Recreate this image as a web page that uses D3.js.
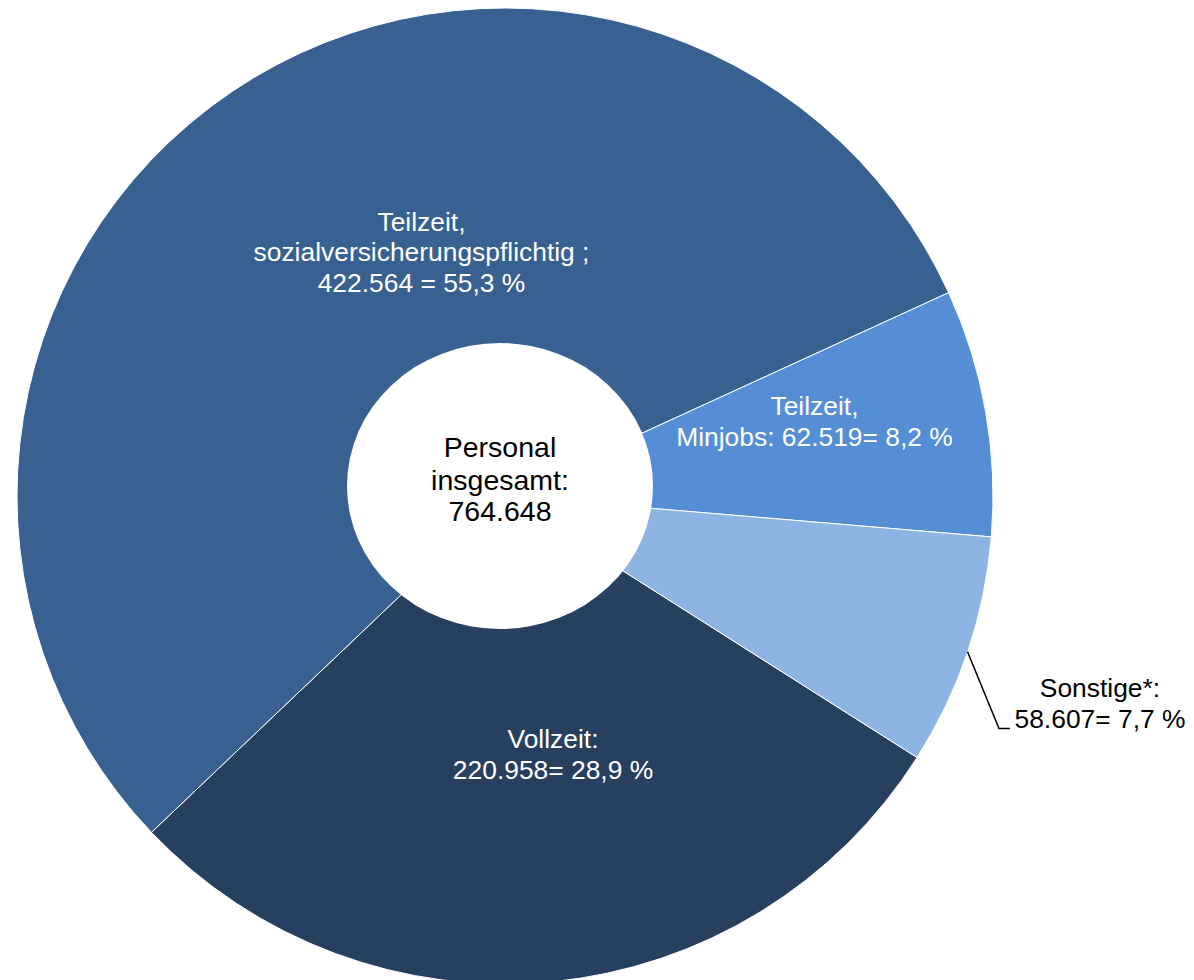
<!DOCTYPE html>
<html>
<head>
<meta charset="utf-8">
<script src="https://cdn.jsdelivr.net/npm/d3@7"></script>
<style>
  html, body { margin: 0; padding: 0; background: #ffffff; }
  svg { display: block; }
  text { font-family: "Liberation Sans", Arial, sans-serif; }
</style>
</head>
<body>
<svg id="chart" width="1194" height="980"></svg>
<script>
// Data (order clockwise, starting with Vollzeit)
const categories = ["Vollzeit", "Teilzeit, sozialversicherungspflichtig", "Teilzeit, Minjobs", "Sonstige*"];
const values = [220958, 422564, 62519, 58607];
const labelLines = [
  ["Vollzeit:", "220.958= 28,9 %"],
  ["Teilzeit,", "sozialversicherungspflichtig ;", "422.564 = 55,3 %"],
  ["Teilzeit,", "Minjobs: 62.519= 8,2 %"],
  ["Sonstige*:", "58.607= 7,7 %"]
];
const centerLines = ["Personal", "insgesamt:", "764.648"];
const colors = ["#27405F", "#386192", "#558ED5", "#8EB4E3"];

const svg = d3.select("#chart");
const cx = 505, cy = 496, R = 488;
const startDeg = 122.4;

const pie = d3.pie().sort(null).value(d => d)
  .startAngle(startDeg * Math.PI / 180)
  .endAngle((startDeg + 360) * Math.PI / 180);
const arcs = pie(values);
const arc = d3.arc().innerRadius(0).outerRadius(R);

const g = svg.append("g").attr("transform", `translate(${cx},${cy})`);
g.selectAll("path.slice").data(arcs).enter().append("path")
  .attr("class", "slice")
  .attr("d", arc)
  .attr("fill", (d, i) => colors[i])
  .attr("stroke", "#ffffff")
  .attr("stroke-width", 1);

// white hole
svg.append("ellipse")
  .attr("cx", 500).attr("cy", 486)
  .attr("rx", 153).attr("ry", 143)
  .attr("fill", "#ffffff");

// center text
const ct = svg.append("text").attr("text-anchor", "middle")
  .attr("font-size", 28.5).attr("fill", "#000");
const centerBase = [456.7, 490, 521];
centerLines.forEach((t, i) => {
  ct.append("tspan").attr("x", 500).attr("y", centerBase[i]).text(t);
});

// slice labels: positions (center x, first baseline), line spacing
const labelPos = [
  {x: 553, y: 748, color: "#ffffff"},
  {x: 421.5, y: 230.7, color: "#ffffff"},
  {x: 814.5, y: 415, color: "#ffffff"},
  {x: 1100, y: 697, color: "#000000"}
];
const lh = 30.5;
labelLines.forEach((lines, i) => {
  const p = labelPos[i];
  const t = svg.append("text").attr("text-anchor", "middle")
    .attr("font-size", 26.4).attr("fill", p.color);
  lines.forEach((s, j) => {
    t.append("tspan").attr("x", p.x).attr("y", p.y + j * lh).text(s);
  });
});

// leader line for Sonstige
const sonst = arcs[3];
const mid = (sonst.startAngle + sonst.endAngle) / 2;
const lx0 = cx + R * Math.sin(mid), ly0 = cy - R * Math.cos(mid);
svg.append("path")
  .attr("d", `M${lx0},${ly0} L999,728.5 L1010,728.5`)
  .attr("fill", "none")
  .attr("stroke", "#000")
  .attr("stroke-width", 1.5);
</script>
</body>
</html>
